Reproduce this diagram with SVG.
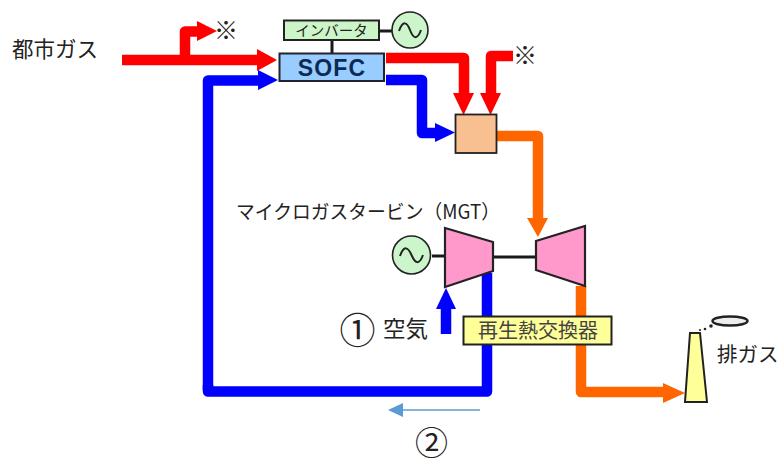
<svg xmlns="http://www.w3.org/2000/svg" width="779" height="459" viewBox="0 0 779 459">
<style>
text{font-family:"Noto Sans CJK JP","Liberation Sans",sans-serif;fill:#222}
.f{fill:none;stroke-width:10.5;stroke-linejoin:round}
.r{stroke:#f00}.b{stroke:#00f}.o{stroke:#f60}
.hr{fill:#f00}.hb{fill:#00f}.ho{fill:#f60}
.k{stroke:#1a1a1a;stroke-width:3;fill:none}
.s{stroke:#222;stroke-width:2}
.e{stroke:#222;stroke-width:1.6;fill:#ccf5cc}
</style>
<g id="connectors">
<path class="f r" d="M122 60H258"/><polygon class="hr" points="257,49 277,60 257,71"/>
<path class="f r" d="M185 60V31.5H198"/><polygon class="hr" points="197,21 217,31 197,41"/>
<path class="f b" d="M208 390V80.500H259"/><polygon class="hb" points="258,70 278,80 258,90"/>
<path class="f b" d="M487 273V391.500H208V385"/>
<path class="f r" d="M386 58H464V95"/><polygon class="hr" points="453,93 474,93 463.500,115"/>
<path class="f r" d="M513 56H491V95"/><polygon class="hr" points="480,93 501,93 490.500,115"/>
<path class="f b" d="M386 80H422V133H437"/><polygon class="hb" points="435,123 455,132.500 435,142"/>
<path class="f o" d="M497 136H538V220"/><polygon class="ho" points="527,218 548,218 538,237"/>
<path class="f b" d="M446 334V306"/><polygon class="hb" points="436,309 446,288 456,309"/>
<path class="f o" d="M581 286V392H665"/><polygon class="ho" points="663,383 685,393 663,403"/>
<path class="k" d="M332 40V53M379 31H393M432 256H445M493 257H536"/>
<path d="M480 410H402" stroke="#5b9bd5" stroke-width="1.500" fill="none"/><polygon points="403,403 388,410 403,417" fill="#5b9bd5"/>
</g>
<g id="gas-label"><text x="12" y="57" font-size="21.500">都市ガス</text></g>
<g id="note-1"><text x="214" y="39" font-size="24">※</text></g>
<g id="note-2"><text x="513" y="64" font-size="24">※</text></g>
<g id="inverter"><rect class="s" x="284" y="20.500" width="95" height="19.500" fill="#ccf5c8"/><text x="331.500" y="36" font-size="14.500" text-anchor="middle">インバータ</text></g>
<g id="generator-1"><circle class="e" cx="410" cy="30" r="18"/><path d="M399 31C403 20 407 22 410 30S417 41 421 30" fill="none" stroke="#222" stroke-width="2"/></g>
<g id="sofc"><rect x="279.500" y="53.500" width="104.500" height="27.500" fill="#99ccff" stroke="#223" stroke-width="2"/><text x="332" y="75.500" font-size="23" font-weight="bold" text-anchor="middle" letter-spacing="1.200" style="font-family:'Liberation Sans',sans-serif;fill:#0c2a55">SOFC</text></g>
<g id="combustor"><rect x="455.500" y="114.500" width="41" height="38.500" fill="#f8c090" stroke="#222" stroke-width="1.800"/></g>
<g id="mgt-label"><text x="236" y="219" font-size="19.500" textLength="264" lengthAdjust="spacingAndGlyphs">マイクロガスタービン（MGT）</text></g>
<g id="generator-2"><circle class="e" cx="411.500" cy="255" r="19"/><path d="M400 256C404 245 408 247 411.500 255S419 266 423 255" fill="none" stroke="#222" stroke-width="2"/></g>
<g id="compressor"><polygon points="445,228 493,242 493,271 445,287" fill="#ff99cc" stroke="#222" stroke-width="2.200"/></g>
<g id="turbine"><polygon points="536,241 585,226 585,286 536,270" fill="#ff99cc" stroke="#222" stroke-width="2.200"/></g>
<g id="air-label"><text x="339.500" y="344" font-size="36">①</text><text x="383" y="337" font-size="22.500">空気</text></g>
<g id="heat-exchanger"><rect x="463.500" y="316.500" width="148" height="28" fill="#ffff99" stroke="#222" stroke-width="2"/><text x="538" y="338" font-size="20" text-anchor="middle" style="fill:#444">再生熱交換器</text></g>
<g id="stack"><polygon points="690,333 700,333 707,402 685,402" fill="#ffff99" stroke="#222" stroke-width="2"/><ellipse cx="730" cy="321" rx="17.500" ry="4.500" fill="#eee" stroke="#222" stroke-width="2.500"/><circle cx="711" cy="326" r="1.800" fill="#222"/><circle cx="705" cy="329" r="1.300" fill="#222"/><circle cx="700" cy="330" r="1" fill="#222"/></g>
<g id="exhaust-label"><text x="717" y="362" font-size="20.500">排ガス</text></g>
<g id="flow-label"><text x="415" y="454.500" font-size="33">②</text></g>
</svg>
